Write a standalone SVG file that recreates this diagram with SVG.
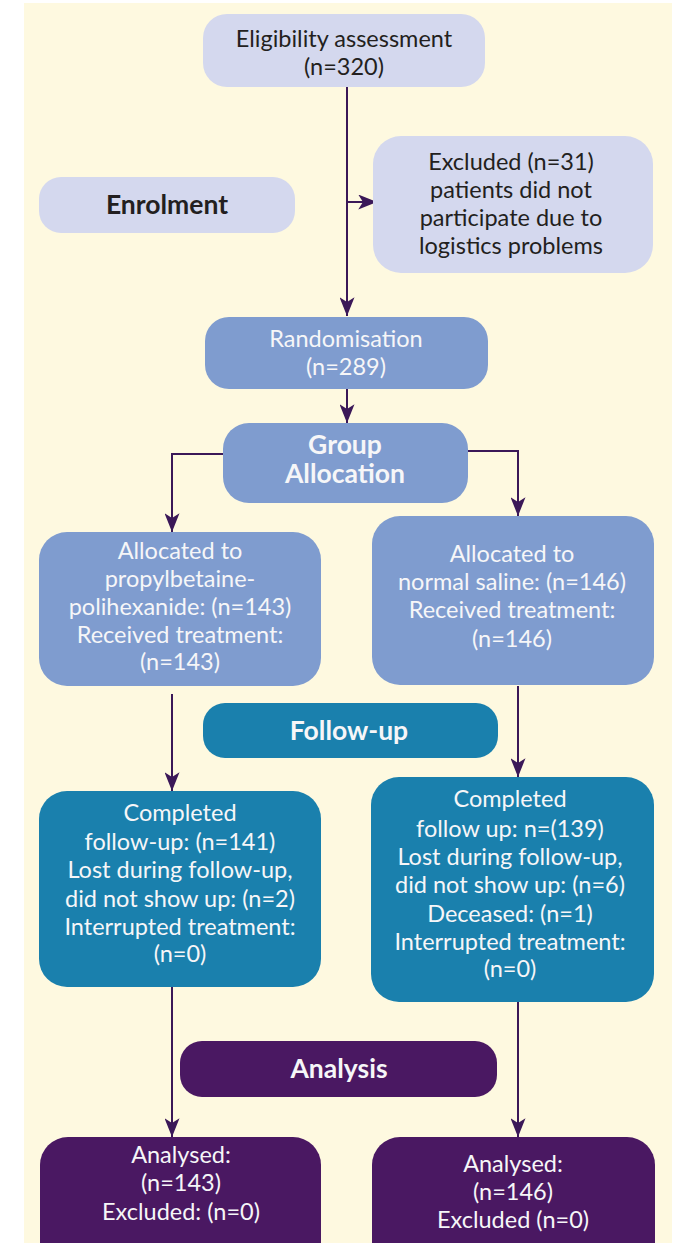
<svg xmlns="http://www.w3.org/2000/svg" width="676" height="1243" viewBox="0 0 676 1243">
<style>
  text { font-family: Lato, "Open Sans", "Liberation Sans", sans-serif; font-size: 23.5px; text-anchor: middle; }
  .dark { fill: #231f20; }
  .light { fill: #f6f6f8; }
  .bold { font-weight: bold; font-size: 26.5px; }
  .lav { fill: #d4d8ee; }
  .mid { fill: #7f9ccf; }
  .teal { fill: #1a80ad; }
  .purp { fill: #4a1862; }
  .conn { fill: none; stroke: #3b1858; stroke-width: 2; marker-end: url(#arr); }
</style>
<defs>
  <marker id="arr" markerUnits="userSpaceOnUse" viewBox="0 0 20 16" markerWidth="19" markerHeight="15" refX="20" refY="8" orient="auto">
    <path d="M0,0 L20,8 L0,16 L5,8 z" fill="#3b1858"/>
  </marker>
</defs>
<rect x="24" y="3" width="648" height="1240" fill="#fef9e0"/>

<g id="connectors">
  <path class="conn" d="M347,87 V316"/>
  <path class="conn" d="M347,202 H377"/>
  <path class="conn" d="M347,389 V423"/>
  <path class="conn" d="M223,454 H172 V532"/>
  <path class="conn" d="M468,451 H518 V516"/>
  <path class="conn" d="M172,694 V791"/>
  <path class="conn" d="M518,686 V777"/>
  <path class="conn" d="M172,987 V1137"/>
  <path class="conn" d="M518,1002 V1137"/>
</g>

<g id="eligibility">
  <rect class="lav" x="203" y="14" width="282" height="73" rx="24"/>
  <text class="dark" x="344" y="47">Eligibility assessment</text>
  <text class="dark" x="344" y="75">(n=320)</text>
</g>
<g id="enrolment">
  <rect class="lav" x="39" y="177" width="256" height="56" rx="22"/>
  <text class="dark bold" x="167" y="214">Enrolment</text>
</g>
<g id="excluded">
  <rect class="lav" x="373" y="136" width="280" height="137" rx="28"/>
  <text class="dark" x="511" y="170">Excluded (n=31)</text>
  <text class="dark" x="511" y="198">patients did not</text>
  <text class="dark" x="511" y="226">participate due to</text>
  <text class="dark" x="511" y="254">logistics problems</text>
</g>
<g id="randomisation">
  <rect class="mid" x="205" y="317" width="283" height="72" rx="24"/>
  <text class="light" x="346" y="347">Randomisation</text>
  <text class="light" x="346" y="375">(n=289)</text>
</g>
<g id="group-allocation">
  <rect class="mid" x="223" y="423" width="245" height="80" rx="26"/>
  <text class="light bold" x="345" y="454">Group</text>
  <text class="light bold" x="345" y="483">Allocation</text>
</g>
<g id="alloc-left">
  <rect class="mid" x="39" y="532" width="282" height="154" rx="28"/>
  <text class="light" x="180" y="559">Allocated to</text>
  <text class="light" x="180" y="587">propylbetaine-</text>
  <text class="light" x="180" y="615">polihexanide: (n=143)</text>
  <text class="light" x="180" y="643">Received treatment:</text>
  <text class="light" x="180" y="670">(n=143)</text>
</g>
<g id="alloc-right">
  <rect class="mid" x="372" y="516" width="282" height="169" rx="28"/>
  <text class="light" x="512" y="562">Allocated to</text>
  <text class="light" x="512" y="590">normal saline: (n=146)</text>
  <text class="light" x="512" y="618">Received treatment:</text>
  <text class="light" x="512" y="647">(n=146)</text>
</g>
<g id="follow-up">
  <rect class="teal" x="203" y="703" width="295" height="55" rx="22"/>
  <text class="light bold" x="349" y="740">Follow-up</text>
</g>
<g id="completed-left">
  <rect class="teal" x="39" y="791" width="282" height="196" rx="28"/>
  <text class="light" x="180" y="821">Completed</text>
  <text class="light" x="180" y="850">follow-up: (n=141)</text>
  <text class="light" x="180" y="878">Lost during follow-up,</text>
  <text class="light" x="180" y="907">did not show up: (n=2)</text>
  <text class="light" x="180" y="935">Interrupted treatment:</text>
  <text class="light" x="180" y="962">(n=0)</text>
</g>
<g id="completed-right">
  <rect class="teal" x="371" y="777" width="283" height="225" rx="28"/>
  <text class="light" x="510" y="807">Completed</text>
  <text class="light" x="510" y="837">follow up: n=(139)</text>
  <text class="light" x="510" y="865">Lost during follow-up,</text>
  <text class="light" x="510" y="893">did not show up: (n=6)</text>
  <text class="light" x="510" y="922">Deceased: (n=1)</text>
  <text class="light" x="510" y="950">Interrupted treatment:</text>
  <text class="light" x="510" y="977">(n=0)</text>
</g>
<g id="analysis">
  <rect class="purp" x="180" y="1041" width="317" height="56" rx="22"/>
  <text class="light bold" x="339" y="1078">Analysis</text>
</g>
<g id="analysed-left">
  <rect class="purp" x="40" y="1137" width="281" height="140" rx="28"/>
  <text class="light" x="181" y="1163">Analysed:</text>
  <text class="light" x="181" y="1191">(n=143)</text>
  <text class="light" x="181" y="1220">Excluded: (n=0)</text>
</g>
<g id="analysed-right">
  <rect class="purp" x="372" y="1137" width="283" height="140" rx="28"/>
  <text class="light" x="513" y="1172">Analysed:</text>
  <text class="light" x="513" y="1200">(n=146)</text>
  <text class="light" x="513" y="1228">Excluded (n=0)</text>
</g>
</svg>
